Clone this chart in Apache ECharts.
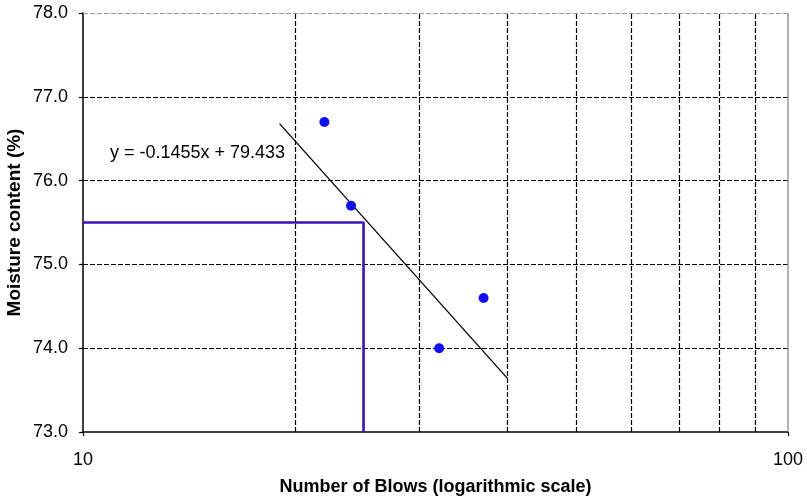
<!DOCTYPE html>
<html>
<head>
<meta charset="utf-8">
<script src="https://cdn.jsdelivr.net/npm/echarts@6/dist/echarts.min.js"></script>
<style>
  html, body { margin: 0; padding: 0; background: #fff; }
  #chart { width: 807px; height: 498px; }
</style>
</head>
<body>
<div id="chart"></div>
<script>
// Flow test readings: number of blows vs moisture content
const blows = [22, 24, 32, 37];
const moisture = [76.7, 75.7, 74.0, 74.6];

// Fitted trend line end points
const trendBlows = [19, 40];
const trendMoisture = [76.68, 73.64];

// Liquid limit read at 25 blows
const llBlows = 25;
const llMoisture = 75.5;

// Axis ranges and grid positions
const xMin = 10, xMax = 100;
const yMin = 73, yMax = 78;
const xGridValues = [20, 30, 40, 50, 60, 70, 80, 90];

const equationText = 'y = -0.1455x + 79.433';

const FONT = '"Liberation Sans", Arial, sans-serif';
const dash = [5, 2];

const chart = echarts.init(document.getElementById('chart'), null, { renderer: 'canvas' });

chart.setOption({
  animation: false,
  backgroundColor: '#ffffff',
  grid: { left: 83, right: 19, top: 13, bottom: 66, containLabel: false, outerBoundsMode: 'none' },
  xAxis: {
    type: 'log',
    logBase: 10,
    min: xMin,
    max: xMax,
    name: 'Number of Blows (logarithmic scale)',
    nameLocation: 'middle',
    nameGap: 55,
    nameMoveOverlap: false,
    nameTextStyle: { fontFamily: FONT, fontSize: 18, fontWeight: 'bold', color: '#000', verticalAlign: 'middle' },
    axisLine: { show: true, lineStyle: { color: '#000', width: 1.5 } },
    axisTick: { show: true, length: 4, inside: false, lineStyle: { color: '#000', width: 1.2 } },
    axisLabel: { fontFamily: FONT, fontSize: 18, color: '#000', margin: 19 },
    splitLine: { show: false },
    minorTick: { show: false },
    minorSplitLine: { show: false }
  },
  yAxis: {
    type: 'value',
    min: yMin,
    max: yMax,
    interval: 1,
    name: 'Moisture content (%)',
    nameLocation: 'middle',
    nameGap: 68,
    nameMoveOverlap: false,
    nameTextStyle: { fontFamily: FONT, fontSize: 19, fontWeight: 'bold', color: '#000', verticalAlign: 'middle' },
    axisLine: { show: true, lineStyle: { color: '#000', width: 1.5 } },
    axisTick: { show: true, length: 4, inside: false, lineStyle: { color: '#000', width: 1.2 } },
    axisLabel: {
      fontFamily: FONT, fontSize: 18, color: '#000', margin: 15,
      formatter: v => v.toFixed(1)
    },
    splitLine: {
      show: true,
      showMinLine: false,
      showMaxLine: false,
      lineStyle: { color: '#000', width: 1.2, type: dash }
    }
  },
  graphic: [{
    type: 'text',
    left: 110,
    top: 144,
    style: {
      text: equationText,
      font: '18px ' + FONT,
      fill: '#000'
    }
  }],
  series: [
    {
      // vertical grid lines, top and right frame
      type: 'line',
      data: [],
      silent: true,
      z: 1,
      markLine: {
        silent: true,
        symbol: 'none',
        label: { show: false },
        animation: false,
        data: [
          ...xGridValues.map(v => ({
            xAxis: v,
            lineStyle: { color: '#000', width: 1.2, type: dash }
          })),
          { yAxis: yMax, lineStyle: { color: '#999', width: 1.2, type: dash } },
          { xAxis: xMax, lineStyle: { color: '#999', width: 1.5, type: 'solid' } }
        ]
      }
    },
    {
      // liquid limit construction lines
      type: 'line',
      data: [[xMin, llMoisture], [llBlows, llMoisture], [llBlows, yMin]],
      symbol: 'none',
      lineStyle: { color: '#3a14b8', width: 2.6 },
      z: 3
    },
    {
      // trend line
      type: 'line',
      data: trendBlows.map((b, i) => [b, trendMoisture[i]]),
      symbol: 'none',
      lineStyle: { color: '#000', width: 1.3 },
      z: 4
    },
    {
      type: 'scatter',
      data: blows.map((b, i) => [b, moisture[i]]),
      symbol: 'circle',
      symbolSize: 10,
      itemStyle: { color: '#1010ee', opacity: 1 },
      z: 5
    }
  ]
});
</script>
</body>
</html>
